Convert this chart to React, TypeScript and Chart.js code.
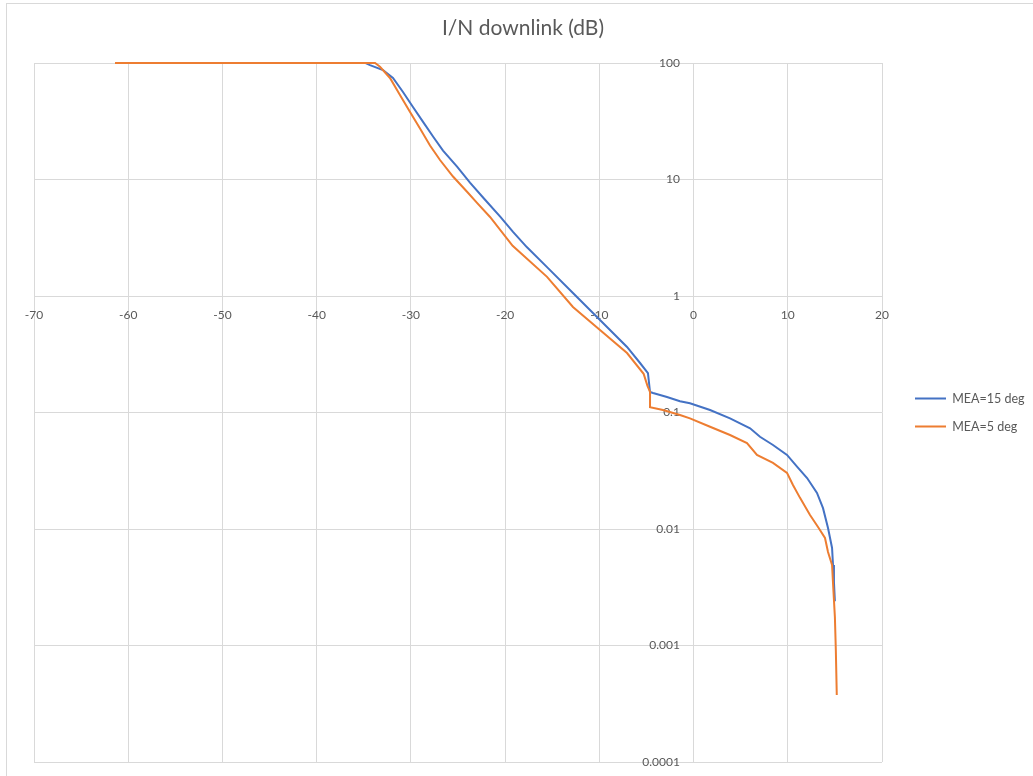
import React, { useEffect, useRef } from "react";
import { Chart, registerables } from "chart.js";

Chart.register(...registerables);

const chartTitle = "I/N downlink (dB)";
const seriesNames = ["MEA=15 deg", "MEA=5 deg"];
const seriesColors = ["#4472C4", "#ED7D31"];

// MEA=15 deg (blue)
const mea15X = [
  -39.3, -34.8, -34.34, -32.96, -31.9, -30.84, -29.78, -28.71, -27.65, -26.59,
  -25.1, -23.73, -22.2, -20.5, -19.16, -17.7, -15.55, -12.8, -9.93, -7.06, -5.68,
  -4.84, -4.62, -4.3, -2.82, -1.44, -0.38, 1.75, 3.87, 6.0, 7.05, 8.43, 9.92,
  10.98, 12.05, 13.1, 13.74, 14.27, 14.7, 14.8, 14.9, 15.0,
];
const mea15Y = [
  100, 100, 96, 87, 74.4, 56.4, 41.9, 31.2, 23.4, 17.7, 12.9, 9.4, 6.8, 4.77,
  3.55, 2.63, 1.77, 1.06, 0.622, 0.365, 0.266, 0.218, 0.15, 0.147, 0.136, 0.125,
  0.12, 0.105, 0.0891, 0.0731, 0.0619, 0.0526, 0.0432, 0.0343, 0.0274, 0.0204,
  0.0151, 0.0102, 0.00687, 0.00491, 0.0035, 0.0024,
];

// MEA=5 deg (orange)
const mea5X = [
  -61.4, -33.8, -33.28, -32.22, -31.16, -30.09, -29.03, -27.97, -26.91, -25.53,
  -24.04, -22.98, -21.6, -19.2, -15.55, -12.8, -9.93, -7.06, -5.3, -4.9, -4.62,
  -4.62, -3.24, -1.44, -0.38, 1.75, 3.87, 5.67, 6.73, 8.43, 9.92, 10.55, 11.3,
  12.36, 13.21, 13.95, 14.27, 14.7, 14.8, 15.0, 15.1, 15.2,
];
const mea5Y = [
  100, 100, 92.9, 74.4, 53.1, 37.9, 27.4, 19.6, 14.7, 10.6, 7.85, 6.29, 4.77,
  2.7, 1.46, 0.805, 0.511, 0.324, 0.215, 0.17, 0.15, 0.111, 0.105, 0.0952,
  0.0891, 0.0755, 0.0641, 0.0547, 0.0432, 0.0369, 0.0303, 0.0239, 0.0185,
  0.0132, 0.0104, 0.00838, 0.00635, 0.00491, 0.00344, 0.00176, 0.000914,
  0.000376,
];

const xMin = -70;
const xMax = 20;
const xStep = 10;
const yMin = 0.0001;
const yMax = 100;
const yTickValues = [0.0001, 0.001, 0.01, 0.1, 1, 10, 100];
const yTickLabels = ["0.0001", "0.001", "0.01", "0.1", "1", "10", "100"];

const toPoints = (xs: number[], ys: number[]) => xs.map((x, i) => ({ x, y: ys[i] }));

const FONT = "Lato, 'Open Sans', sans-serif";
const TEXT = "#595959";
const GRID = "#D9D9D9";

// let legend text draw past the legend box edge (the box is given a fixed width for layout)
const legendWidenPlugin = {
  id: "legendWiden",
  afterLayout(chart: any) {
    const lg = chart.legend;
    if (lg) {
      lg.right = chart.width;
      lg.width = lg.right - lg.left;
    }
  },
};

export default function App() {
  const ref = useRef<HTMLCanvasElement | null>(null);

  useEffect(() => {
    if (!ref.current) return;
    const chart = new Chart(ref.current, {
      type: "line",
      data: {
        datasets: [
          {
            label: seriesNames[0],
            data: toPoints(mea15X, mea15Y),
            borderColor: seriesColors[0],
            backgroundColor: seriesColors[0],
            borderWidth: 2,
            pointRadius: 0,
            tension: 0,
            clip: false,
            order: 1,
            xAxisID: "x",
            yAxisID: "y",
          },
          {
            label: seriesNames[1],
            data: toPoints(mea5X, mea5Y),
            borderColor: seriesColors[1],
            backgroundColor: seriesColors[1],
            borderWidth: 2,
            pointRadius: 0,
            tension: 0,
            clip: false,
            order: 0,
            xAxisID: "x",
            yAxisID: "y",
          },
        ],
      },
      options: {
        animation: false,
        responsive: false,
        maintainAspectRatio: false,
        events: [],
        layout: { padding: { left: 34, right: 21, top: 0, bottom: 14 } },
        scales: {
          y: {
            type: "logarithmic",
            position: { x: -1.45 } as any,
            min: yMin,
            max: yMax,
            afterBuildTicks: (scale: any) => {
              scale.ticks = yTickValues.map((v) => ({ value: v }));
            },
            grid: { color: GRID, lineWidth: 1, drawTicks: false },
            border: { display: false },
            ticks: {
              color: TEXT,
              font: { family: FONT, size: 12 },
              padding: 0,
              callback: (v: any) => {
                const i = yTickValues.findIndex((t) => Math.abs(t - Number(v)) / t < 1e-6);
                return i >= 0 ? yTickLabels[i] : "";
              },
            },
          },
          x: {
            type: "linear",
            position: { y: 1 } as any,
            min: xMin,
            max: xMax,
            grid: { color: GRID, lineWidth: 1, drawTicks: false },
            border: { display: false },
            ticks: {
              stepSize: xStep,
              color: TEXT,
              font: { family: FONT, size: 12 },
              padding: 12,
              maxRotation: 0,
            },
          },
          gap: {
            type: "linear",
            position: "right",
            display: true,
            grid: { display: false, drawTicks: false },
            border: { display: false },
            ticks: { display: false },
            afterFit: (scale: any) => {
              scale.width = 17.5;
            },
          },
        },
        plugins: {
          title: {
            display: true,
            text: chartTitle,
            color: TEXT,
            font: { family: FONT, size: 21, weight: "normal" as any, lineHeight: 1.2 },
            padding: { top: 15.4, bottom: 22.4 },
          },
          legend: {
            display: true,
            position: "right",
            fullSize: false,
            maxWidth: 112.5,
            labels: {
              usePointStyle: true,
              pointStyle: "line",
              pointStyleWidth: 31,
              padding: 15.5,
              color: TEXT,
              font: { family: FONT, size: 12.5 },
              sort: (a: any, b: any) => a.datasetIndex - b.datasetIndex,
            },
          },
          tooltip: { enabled: false },
        },
      } as any,
      plugins: [legendWidenPlugin],
    });
    return () => chart.destroy();
  }, []);

  return (
    <div style={{ position: "fixed", left: 0, top: 0, width: 1033, height: 776, overflow: "hidden", background: "#fff" }}>
      <canvas ref={ref} width={1033} height={776} style={{ position: "absolute", left: 0, top: 0, width: 1033, height: 776 }} />
      <div
        style={{
          position: "absolute",
          left: 6,
          top: 3,
          width: 1060,
          height: 800,
          border: "1px solid #D9D9D9",
          pointerEvents: "none",
        }}
      />
    </div>
  );
}
